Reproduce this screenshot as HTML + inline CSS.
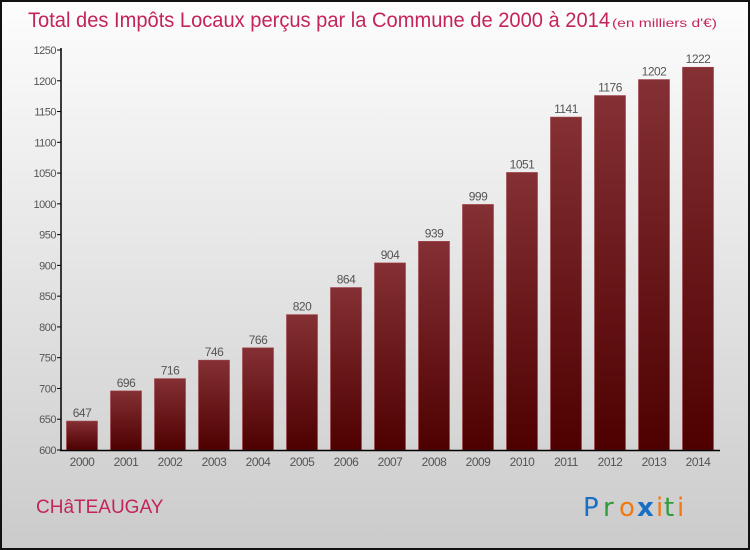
<!DOCTYPE html>
<html><head><meta charset="utf-8"><style>
body{margin:0;width:750px;height:550px;overflow:hidden;font-family:"Liberation Sans",sans-serif}
svg{display:block}
</style></head><body>
<svg width="750" height="550">
<defs>
<linearGradient id="bg" x1="0" y1="0" x2="0" y2="1"><stop offset="0" stop-color="#fdfdfd"/><stop offset="1" stop-color="#cbcbcb"/></linearGradient>
<linearGradient id="bar" x1="0" y1="0" x2="0" y2="1"><stop offset="0" stop-color="#843034"/><stop offset="1" stop-color="#4e0000"/></linearGradient>
</defs>
<rect x="1" y="1" width="748" height="548" fill="url(#bg)" stroke="#111" stroke-width="2"/>
<text x="28" y="27" font-size="21" fill="#c4245a" textLength="582" lengthAdjust="spacingAndGlyphs">Total des Impôts Locaux perçus par la Commune de 2000 à 2014</text>
<text x="612" y="27" font-size="12" fill="#c4245a" textLength="105" lengthAdjust="spacingAndGlyphs">(en milliers d'€)</text>
<g id="plot"></g>
<text x="36" y="513" font-size="19" fill="#c4245a">CHâTEAUGAY</text>
<g font-size="26" font-family="'DejaVu Sans',sans-serif">
<text x="583" y="516" fill="#1a6fc4">P</text><text x="603" y="516" fill="#2f9b3a">r</text><text x="619" y="516" fill="#f07a10">o</text><text x="637" y="516" fill="#1a6fc4" font-weight="bold">x</text><text x="656" y="516" fill="#f07a10">i</text><text x="664" y="516" fill="#2f9b3a">t</text><text x="677" y="516" fill="#f07a10">i</text>
</g>
</svg>
<script>
const years=["2000","2001","2002","2003","2004","2005","2006","2007","2008","2009","2010","2011","2012","2013","2014"];
const values=[647,696,716,746,766,820,864,904,939,999,1051,1141,1176,1202,1222];
const yTicks=[600,650,700,750,800,850,900,950,1000,1050,1100,1150,1200,1250];
const NS="http://www.w3.org/2000/svg";
const g=document.getElementById('plot');
const y0=450,y1=50,vmin=600,vmax=1250;
const ys=v=>y0-(v-vmin)/(vmax-vmin)*(y0-y1);
const xs=i=>82+i*44;
function mk(t,a,p){const e=document.createElementNS(NS,t);for(const k in a)e.setAttribute(k,a[k]);(p||g).appendChild(e);return e;}
yTicks.forEach(v=>{
 const l=mk('line',{x1:57,x2:61,y1:ys(v),y2:ys(v),stroke:'#000'});
 
 
 const t=mk('text',{x:56,y:ys(v)+4,'font-size':11,fill:'#555','text-anchor':'end','letter-spacing':'-0.5'});
 t.textContent=v;
 
 
});
values.forEach((v,i)=>{
 const r=mk('rect',{x:xs(i)-15.5,y:ys(v),width:31,height:y0-ys(v),fill:'url(#bar)',stroke:'#a04048','stroke-width':0.6});
 
 
 const t=mk('text',{x:xs(i),y:ys(v)-4,'font-size':12,fill:'#555','text-anchor':'middle','letter-spacing':'-0.5'});
 t.textContent=v;
 
 
 const xl=mk('text',{x:xs(i),y:466,'font-size':12,fill:'#555','text-anchor':'middle','letter-spacing':'-0.5'});
 xl.textContent=years[i];
 
 
});
const ya=mk('line',{x1:61,x2:61,y1:48,y2:451,stroke:'#000','stroke-width':1.5});


const xa=mk('line',{x1:60,x2:720,y1:450.5,y2:450.5,stroke:'#000','stroke-width':1.5});


</script>
</body></html>
